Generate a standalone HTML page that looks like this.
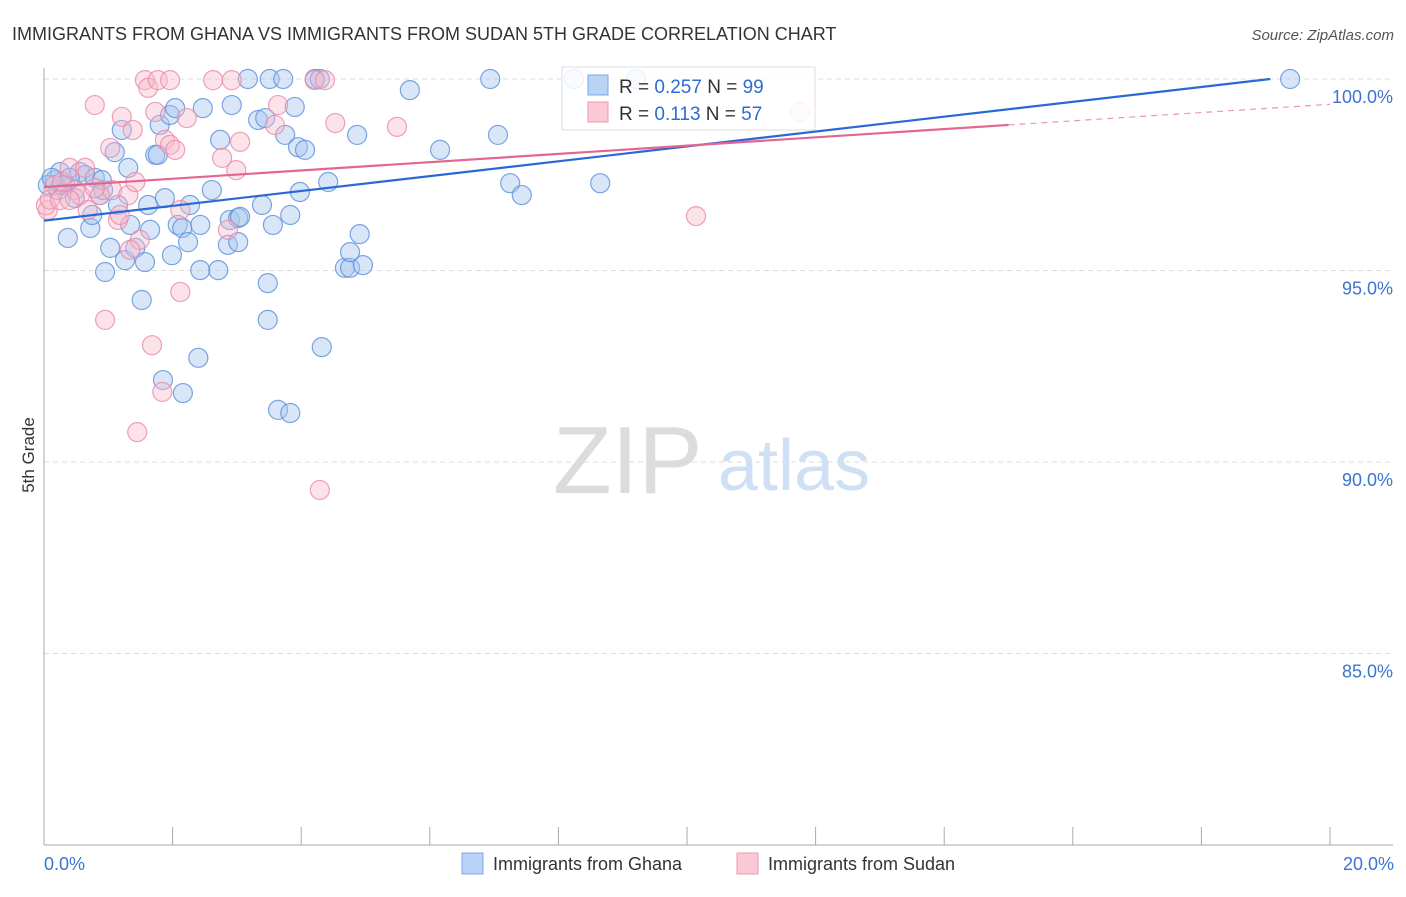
<!DOCTYPE html>
<html><head><meta charset="utf-8"><style>
body{margin:0;background:#fff;font-family:"Liberation Sans",sans-serif}
svg text{font-family:"Liberation Sans",sans-serif}
</style></head><body>
<svg id="chart" width="1406" height="892">
<text x="12" y="40" font-size="18" fill="#333">IMMIGRANTS FROM GHANA VS IMMIGRANTS FROM SUDAN 5TH GRADE CORRELATION CHART</text>
<text x="1394" y="40" font-size="15" fill="#555" text-anchor="end" font-style="italic">Source: ZipAtlas.com</text>
<text x="34" y="455" font-size="17" fill="#333" text-anchor="middle" transform="rotate(-90 34 455)">5th Grade</text>
<g><text x="553" y="493" font-size="96" fill="#dcdcdc" font-family="Liberation Serif">ZIP</text><text x="718" y="490" font-size="72" fill="#cfe0f5">atlas</text></g>
<g id="grid"></g><g id="axes"></g><g id="marks"></g>
<g>
<rect x="562" y="67" width="253" height="63" fill="#fff" fill-opacity="0.85" stroke="#ddd"/>
<rect x="588" y="75" width="20" height="20" fill="#b8d3f5" stroke="#7aa7e6"/>
<text x="619" y="93" font-size="19" fill="#333">R = <tspan fill="#2f6bd4">0.257</tspan>   N = <tspan fill="#2f6bd4">99</tspan></text>
<rect x="588" y="102" width="20" height="20" fill="#fbc8d6" stroke="#ef9ab3"/>
<text x="619" y="120" font-size="19" fill="#333">R =  <tspan fill="#2f6bd4">0.113</tspan>   N = <tspan fill="#2f6bd4">57</tspan></text>
</g>
<g>
<rect x="462" y="853" width="21" height="21" fill="#b8d3f5" stroke="#7aa7e6"/>
<text x="493" y="870" font-size="18" fill="#333">Immigrants from Ghana</text>
<rect x="737" y="853" width="21" height="21" fill="#fbc8d6" stroke="#ef9ab3"/>
<text x="768" y="870" font-size="18" fill="#333">Immigrants from Sudan</text>
</g>
</svg>
<script>
const yTicks=[100,95,90,85];
const yTickLabels=["100.0%","95.0%","90.0%","85.0%"];
const xTicks=[0,2,4,6,8,10,12,14,16,18,20];
const ghanaX=[0.17,0.25,0.33,0.37,0.48,0.56,0.64,0.72,0.75,0.79,0.87,0.92,0.95,1.03,1.10,1.15,1.21,1.26,1.31,1.34,1.42,1.52,1.57,1.62,1.65,1.73,1.77,1.80,1.85,1.88,1.96,1.99,2.04,2.08,2.15,2.16,2.24,2.27,2.40,2.43,2.47,2.61,2.71,2.74,2.86,2.89,2.92,3.02,3.02,3.17,3.33,3.39,3.48,3.48,3.51,3.56,3.64,3.72,3.75,3.83,3.83,3.90,3.95,3.98,4.06,4.21,4.29,4.32,4.42,4.68,4.76,4.76,4.87,4.91,4.96,5.69,6.16,6.94,7.06,7.25,7.43,8.24,8.65,19.38,0.28,0.22,0.40,0.90,0.06,0.12,3.05,3.44,2.43,9.21];
const ghanaY=[97.36,97.57,97.23,95.85,96.89,97.57,97.49,96.11,96.45,97.42,96.97,97.10,94.96,95.59,98.09,96.71,98.67,95.27,97.68,96.19,95.59,94.23,95.22,96.71,96.06,98.02,98.02,98.80,92.14,96.89,99.06,95.40,99.24,96.19,96.11,91.80,95.74,96.71,92.72,95.01,99.24,97.10,95.01,98.41,95.67,96.32,99.32,95.74,96.37,100,98.93,96.71,94.67,93.71,100,96.19,91.36,100,98.54,91.28,96.45,99.27,98.22,97.05,98.15,100,100,93.00,97.31,95.07,95.07,95.48,98.54,95.95,95.14,99.71,98.15,100,98.54,97.28,96.97,100,97.28,100,97.23,97.10,97.42,97.36,97.23,97.42,96.40,98.98,96.19,100];
const sudanX=[0.06,0.03,0.09,0.17,0.28,0.40,0.48,0.56,0.68,0.79,0.87,1.03,1.06,1.15,1.21,1.31,1.38,1.42,1.49,1.57,1.62,1.68,1.73,1.77,1.96,1.84,1.88,1.96,2.04,2.12,2.12,2.22,2.63,2.77,2.86,2.92,2.99,3.05,3.59,3.64,4.21,4.37,4.29,4.53,5.49,10.14,11.76,0.25,0.95,1.45,1.18,1.34,0.64,0.40,0.79];
const sudanY=[96.58,96.7,96.85,97.23,97.31,97.68,97.10,96.97,96.58,99.32,96.97,98.20,97.10,96.32,99.01,96.97,98.67,97.31,95.80,99.97,99.77,93.05,99.14,99.97,99.97,91.83,98.41,98.28,98.15,96.58,94.44,98.98,99.97,97.94,96.06,99.97,97.62,98.36,98.80,99.32,99.97,99.97,89.27,98.85,98.75,96.42,99.14,96.84,93.71,90.78,96.45,95.54,97.68,96.84,97.15];
const ghanaTrend=[96.3,0.194]; // intercept, slope per %
const sudanTrend=[97.18,0.108];
const ghanaTrendEnd=19.07, sudanSolidEnd=15.0, sudanDashEnd=20;
const X0=44,X1=1330,YT=79,YB=845;
const sx=v=>X0+(v-0)/20*(X1-X0);
const sy=v=>YB-(v-80)/20*(YB-YT);
const NS="http://www.w3.org/2000/svg";
function mk(tag,attrs,parent){const e=document.createElementNS(NS,tag);for(const k in attrs)e.setAttribute(k,attrs[k]);document.getElementById(parent).appendChild(e);return e;}
yTicks.forEach((t,i)=>{
 const g=mk('line',{x1:X0,x2:1393,y1:sy(t),y2:sy(t),stroke:'#ddd','stroke-dasharray':'5,4'},'grid');
 
 
 const l=mk('text',{x:1393,y:sy(t)+24,'font-size':18,fill:'#3c74d0','text-anchor':'end'},'axes');
 l.textContent=yTickLabels[i];
 
 
});
const ya=mk('line',{x1:X0,x2:X0,y1:68,y2:YB,stroke:'#aaa'},'axes');


const xa=mk('line',{x1:X0,x2:1393,y1:YB,y2:YB,stroke:'#aaa'},'axes');


xTicks.forEach(t=>{
 const tk=mk('line',{x1:sx(t),x2:sx(t),y1:YB,y2:YB-18,stroke:'#aaa'},'axes');
 
 
});
const xl0=mk('text',{x:44,y:870,'font-size':18,fill:'#3c74d0'},'axes');xl0.textContent='0.0%';


const xl1=mk('text',{x:1394,y:870,'font-size':18,fill:'#3c74d0','text-anchor':'end'},'axes');xl1.textContent='20.0%';


ghanaX.forEach((x,i)=>{
 const c=mk('circle',{cx:sx(x),cy:sy(ghanaY[i]),r:9.5,fill:'#a9c8f0','fill-opacity':0.45,stroke:'#5b8fdc','stroke-opacity':0.8,'stroke-width':1.2},'marks');
 
 
});
sudanX.forEach((x,i)=>{
 const c=mk('circle',{cx:sx(x),cy:sy(sudanY[i]),r:9.5,fill:'#f8b8cb','fill-opacity':0.4,stroke:'#ea8aa8','stroke-opacity':0.8,'stroke-width':1.2},'marks');
 
 
});
const tb=mk('line',{x1:sx(0),y1:sy(ghanaTrend[0]),x2:sx(ghanaTrendEnd),y2:sy(ghanaTrend[0]+ghanaTrend[1]*ghanaTrendEnd),stroke:'#2a68d4','stroke-width':2.2},'marks');


const tp=mk('line',{x1:sx(0),y1:sy(sudanTrend[0]),x2:sx(sudanSolidEnd),y2:sy(sudanTrend[0]+sudanTrend[1]*sudanSolidEnd),stroke:'#e4668f','stroke-width':2.2},'marks');


const td=mk('line',{x1:sx(sudanSolidEnd),y1:sy(sudanTrend[0]+sudanTrend[1]*sudanSolidEnd),x2:sx(sudanDashEnd),y2:sy(sudanTrend[0]+sudanTrend[1]*sudanDashEnd),stroke:'#e4668f','stroke-width':1.2,'stroke-dasharray':'6,5','stroke-opacity':0.7},'marks');


</script>
</body></html>
